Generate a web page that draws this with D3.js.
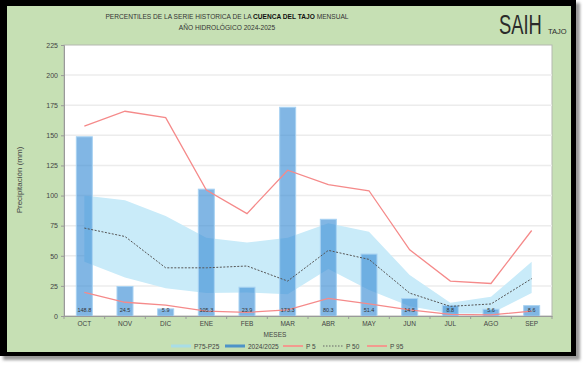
<!DOCTYPE html>
<html>
<head>
<meta charset="utf-8">
<script src="https://cdn.jsdelivr.net/npm/d3@7"></script>
<style>
  body { margin: 0; background: #fff; }
  text { font-family: "Liberation Sans", Arial, sans-serif; }
</style>
</head>
<body>
<svg id="chart" width="583" height="366"></svg>
<script>
// data
var months = ["OCT", "NOV", "DIC", "ENE", "FEB", "MAR", "ABR", "MAY", "JUN", "JUL", "AGO", "SEP"];
var rain2425 = [148.8, 24.5, 5.9, 105.3, 23.9, 173.3, 80.3, 51.4, 14.5, 8.8, 5.6, 8.6];
var p75 = [100, 96, 83, 65, 61, 65, 77, 70, 34, 11, 16, 45];
var p25 = [45, 32, 23, 19, 19.5, 18, 39, 21.5, 8, 2, 2, 19];
var p50 = [73, 66, 40, 40, 41.5, 29, 54.5, 47, 19, 8, 10, 31];
var p5 = [19.7, 11.4, 9, 4, 3, 5, 14.7, 10, 5, 1.4, 1, 4];
var p95 = [157.7, 170, 164.7, 104.6, 85, 121, 109, 104, 55, 29, 27, 71];
var yTicks = [0, 25, 50, 75, 100, 125, 150, 175, 200, 225];

var svg = d3.select("#chart");

// frame: shadow, black border, green panel
var defs = svg.append("defs");
defs.append("filter").attr("id", "blur")
    .append("feGaussianBlur").attr("stdDeviation", 1.5);
svg.append("rect").attr("x", 3).attr("y", 3).attr("width", 577).attr("height", 357)
    .attr("fill", "#9a9a9a").attr("filter", "url(#blur)");
svg.append("rect").attr("x", 0).attr("y", 0).attr("width", 576).attr("height", 356).attr("fill", "#000");
svg.append("rect").attr("x", 7).attr("y", 6).attr("width", 564).attr("height", 346).attr("fill", "#c6e0b4");

var margin = {top: 45, left: 64},
    width = 488, height = 271;

var x = d3.scaleBand().domain(months).range([0, width]);
var y = d3.scaleLinear().domain([0, 225]).range([height, 0]);

var g = svg.append("g").attr("transform", "translate(" + margin.left + "," + margin.top + ")");

g.append("rect").attr("width", width).attr("height", height)
    .attr("fill", "#fff").attr("stroke", "#b4b8b0").attr("stroke-width", 1);

// gridlines
g.selectAll(".grid").data(yTicks.slice(1, -1)).enter().append("line")
    .attr("x1", 0).attr("x2", width)
    .attr("y1", function(d) { return y(d); }).attr("y2", function(d) { return y(d); })
    .attr("stroke", "#ececec").attr("stroke-width", 1.5);

function cx(d) { return x(d) + x.bandwidth() / 2; }

// P75-P25 band
var area = d3.area()
    .x(function(d, i) { return cx(months[i]); })
    .y0(function(d, i) { return y(p25[i]); })
    .y1(function(d) { return y(d); });
g.append("path").datum(p75).attr("d", area).attr("fill", "#c9ebf9");

// bars
var bw = 16;
g.selectAll(".bar").data(rain2425).enter().append("rect")
    .attr("x", function(d, i) { return cx(months[i]) - bw / 2; })
    .attr("y", function(d) { return y(d); })
    .attr("width", bw)
    .attr("height", function(d) { return height - y(d); })
    .attr("fill", "#3d8fd6").attr("fill-opacity", 0.65)
    .attr("stroke", "#a8d2f2").attr("stroke-width", 1);

var line = d3.line().x(function(d, i) { return cx(months[i]); }).y(function(d) { return y(d); });

g.append("path").datum(p5).attr("d", line).attr("fill", "none")
    .attr("stroke", "#f58a8a").attr("stroke-width", 1.3);
g.append("path").datum(p95).attr("d", line).attr("fill", "none")
    .attr("stroke", "#f58a8a").attr("stroke-width", 1.3);
g.append("path").datum(p50).attr("d", line).attr("fill", "none")
    .attr("stroke", "#555").attr("stroke-width", 1).attr("stroke-dasharray", "2,1.5");

// bar value labels
g.selectAll(".lbl").data(rain2425).enter().append("text")
    .attr("x", function(d, i) { return cx(months[i]); })
    .attr("y", height - 4)
    .attr("text-anchor", "middle")
    .attr("font-size", 5.5).attr("fill", "#333")
    .text(function(d) { return d.toFixed(1); });

// axes
var yAxis = d3.axisLeft(y).tickValues(yTicks).tickSize(3).tickPadding(3);
var ya = g.append("g").call(yAxis);
ya.select(".domain").attr("stroke", "#9a9a9a");
ya.selectAll(".tick line").attr("stroke", "#9a9a9a");
ya.selectAll("text").attr("font-size", 7).attr("fill", "#444");

var xa = g.append("g").attr("transform", "translate(0," + height + ")")
    .call(d3.axisBottom(x).tickSize(0).tickPadding(5));
xa.select(".domain").attr("stroke", "#9a9a9a");
xa.selectAll("text").attr("font-size", 6.5).attr("fill", "#444");
// tick marks between categories
xa.selectAll(".sep").data(months.concat(["end"])).enter().append("line")
    .attr("x1", function(d, i) { return i * x.step(); })
    .attr("x2", function(d, i) { return i * x.step(); })
    .attr("y1", 0).attr("y2", 3).attr("stroke", "#9a9a9a");

// axis titles
svg.append("text").attr("x", 275).attr("y", 337).attr("text-anchor", "middle")
    .attr("font-size", 6.5).attr("fill", "#444").text("MESES");
svg.append("text").attr("transform", "translate(22,180) rotate(-90)")
    .attr("text-anchor", "middle").attr("font-size", 8).attr("fill", "#444")
    .text("Precipitación (mm)");

// titles
var t1 = svg.append("text").attr("x", 227).attr("y", 19).attr("text-anchor", "middle")
    .attr("font-size", 6.6).attr("fill", "#333");
t1.append("tspan").text("PERCENTILES DE LA SERIE HISTORICA DE LA ");
t1.append("tspan").attr("font-weight", "bold").attr("fill", "#111").text("CUENCA DEL TAJO");
t1.append("tspan").text(" MENSUAL");
svg.append("text").attr("x", 227).attr("y", 30).attr("text-anchor", "middle")
    .attr("font-size", 6.6).attr("fill", "#333").text("AÑO HIDROLÓGICO 2024-2025");

// SAIH logo
svg.append("text").attr("transform", "translate(499,34) scale(0.68,1)").attr("font-size", 27)
    .attr("fill", "#2a2a2a")
    .attr("font-family", "'DejaVu Sans', sans-serif").attr("font-weight", 200).text("SAIH");
svg.append("text").attr("x", 548).attr("y", 34).attr("font-size", 7.5)
    .attr("fill", "#2a2a2a").text("TAJO");

// legend
var legend = [
    {name: "P75-P25", x: 171, color: "#a9dde6", w: 3, dash: null},
    {name: "2024/2025", x: 225, color: "#4d93c8", w: 3, dash: null},
    {name: "P 5", x: 283, color: "#f29a8e", w: 2, dash: null},
    {name: "P 50", x: 323, color: "#666", w: 1, dash: "1.5,1.5"},
    {name: "P 95", x: 367, color: "#f29a8e", w: 2, dash: null}
];
var lg = svg.selectAll(".leg").data(legend).enter().append("g");
lg.append("line")
    .attr("x1", function(d) { return d.x; }).attr("x2", function(d) { return d.x + 20; })
    .attr("y1", 346).attr("y2", 346)
    .attr("stroke", function(d) { return d.color; })
    .attr("stroke-width", function(d) { return d.w; })
    .attr("stroke-dasharray", function(d) { return d.dash; });
lg.append("text").attr("x", function(d) { return d.x + 23; }).attr("y", 348.5)
    .attr("font-size", 6.5).attr("fill", "#444").text(function(d) { return d.name; });
</script>
</body>
</html>
